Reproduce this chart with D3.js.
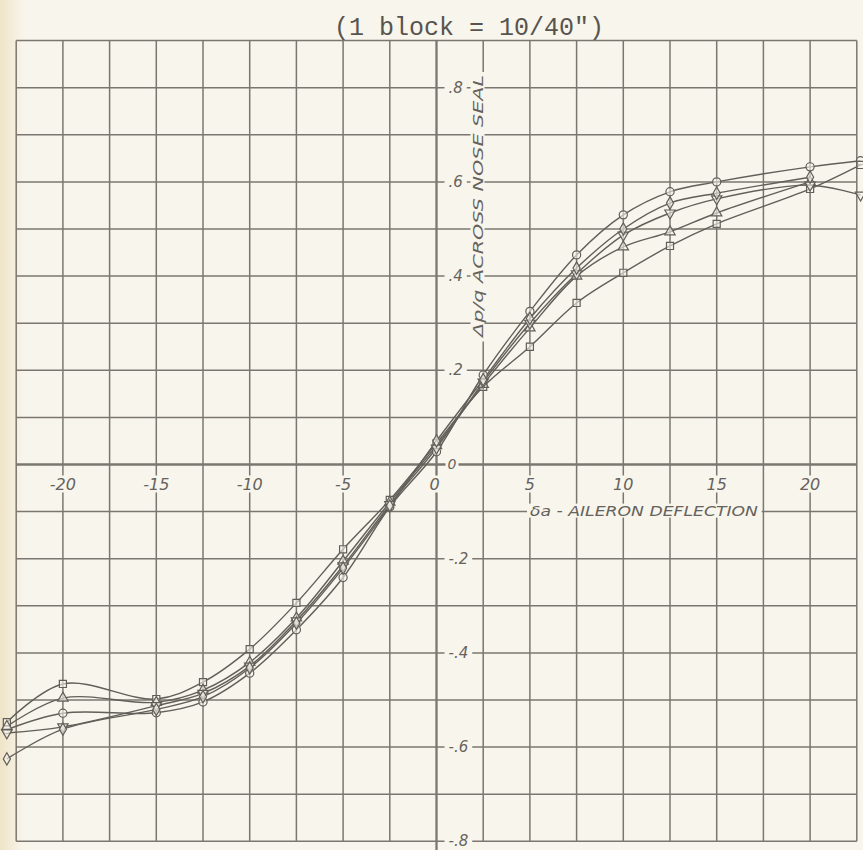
<!DOCTYPE html>
<html>
<head>
<meta charset="utf-8">
<script src="https://cdn.jsdelivr.net/npm/d3@7"></script>
<style>
  html, body { margin: 0; padding: 0; background: #f8f5ec; }
  svg { display: block; }
</style>
</head>
<body>
<svg id="chart" width="863" height="850"></svg>
<script>
// ---- data ----
const xValues = [-23, -20, -15, -12.5, -10, -7.5, -5, -2.5, 0, 2.5, 5, 7.5, 10, 12.5, 15, 20, 22.7];
const circleSeries   = [-0.563, -0.528, -0.527, -0.504, -0.443, -0.351, -0.240, -0.090, 0.027, 0.190, 0.325, 0.445, 0.530, 0.579, 0.600, 0.632, 0.645];
const squareSeries   = [-0.547, -0.466, -0.498, -0.462, -0.392, -0.294, -0.180, -0.075, 0.045, 0.165, 0.250, 0.343, 0.407, 0.464, 0.511, 0.585, 0.636];
const triangleSeries = [-0.556, -0.496, -0.505, -0.479, -0.420, -0.326, -0.205, -0.080, 0.040, 0.170, 0.290, 0.400, 0.462, 0.494, 0.534, 0.600, null];
const invTriSeries   = [-0.570, -0.557, -0.512, -0.486, -0.428, -0.332, -0.215, -0.085, 0.035, 0.175, 0.300, 0.405, 0.487, 0.534, 0.564, 0.593, 0.572];
const diamondSeries  = [-0.625, -0.562, -0.520, -0.493, -0.432, -0.337, -0.220, -0.088, 0.050, 0.180, 0.310, 0.417, 0.500, 0.555, 0.576, 0.610, null];

const xTickValues = [-20, -15, -10, -5, 0, 5, 10, 15, 20];
const xTickLabels = ["-20", "-15", "-10", "-5", "0", "5", "10", "15", "20"];
const yTickValues = [0.8, 0.6, 0.4, 0.2, 0, -0.2, -0.4, -0.6, -0.8];
const yTickLabels = [".8", ".6", ".4", ".2", "0", "-.2", "-.4", "-.6", "-.8"];
const titleText = "(1 block = 10/40\")";
const xTitleText = "δa - AILERON DEFLECTION";
const yTitleText = "Δp/q ACROSS NOSE SEAL";

// ---- drawing ----
const paper = "#f8f5ec";
const ink = "#66625c";
const gridColor = "#7b7770";
const lineColor = "#625e59";
const svg = d3.select("#chart");

const x = d3.scaleLinear().domain([-22.5, 22.5]).range([16.2, 856.8]);
const y = d3.scaleLinear().domain([-0.8, 0.9]).range([841.3, 40.6]);

// paper tint
const defs = svg.append("defs");
const grad = defs.append("linearGradient").attr("id", "edge").attr("x1", 0).attr("x2", 1);
grad.append("stop").attr("offset", "0").attr("stop-color", "#efe4c8");
grad.append("stop").attr("offset", "1").attr("stop-color", paper);
svg.append("rect").attr("width", 863).attr("height", 850).attr("fill", paper);
svg.append("rect").attr("width", 24).attr("height", 850).attr("fill", "url(#edge)");

// grid
const gridX = d3.range(-22.5, 22.51, 2.5);
const gridY = d3.range(-8, 9.01, 1).map(d => d / 10);
const grid = svg.append("g");
grid.selectAll("line.v").data(gridX).join("line")
  .attr("x1", d => x(d)).attr("x2", d => x(d))
  .attr("y1", y(0.9)).attr("y2", y(-0.8))
  .attr("stroke", gridColor).attr("stroke-width", d => d === 0 ? 2.3 : 1.5);
grid.selectAll("line.h").data(gridY).join("line")
  .attr("y1", d => y(d)).attr("y2", d => y(d))
  .attr("x1", x(-22.5)).attr("x2", x(22.5))
  .attr("stroke", gridColor).attr("stroke-width", d => Math.abs(d) < 1e-9 ? 2.3 : 1.5);
// y axis extends slightly below
svg.append("line").attr("x1", x(0)).attr("x2", x(0)).attr("y1", y(-0.8)).attr("y2", 850)
  .attr("stroke", gridColor).attr("stroke-width", 2.3);

// helper: text with a paper-coloured patch behind it (gaps in the grid)
function label(g, txt, px, py, opts) {
  const t = g.append("text").attr("x", px).attr("y", py).text(txt)
    .attr("fill", ink)
    .attr("font-family", opts.family || "DejaVu Sans")
    .attr("font-style", opts.style || "italic")
    .attr("font-size", opts.size || 15)
    .attr("text-anchor", opts.anchor || "middle");
  if (opts.spacing) t.attr("letter-spacing", opts.spacing);
  if (opts.transform) t.attr("transform", opts.transform);
  if (opts.length) t.attr("textLength", opts.length).attr("lengthAdjust", "spacingAndGlyphs");
  const bb = t.node().getBBox();
  const pad = opts.pad === undefined ? 4 : opts.pad;
  g.insert("rect", () => t.node())
    .attr("x", bb.x - pad).attr("y", bb.y + 1).attr("width", bb.width + 2 * pad).attr("height", bb.height - 2)
    .attr("fill", paper)
    .attr("transform", opts.transform || null);
  return t;
}

const labels = svg.append("g");
xTickValues.forEach((v, i) => {
  label(labels, xTickLabels[i], x(v) - (v === 0 ? 2 : 0), y(0) + 25, { size: 16 });
});
yTickValues.forEach((v, i) => {
  if (v === 0) {
    label(labels, yTickLabels[i], x(0) + 11, y(v) + 4, { size: 14, anchor: "start", pad: 2 });
  } else {
    label(labels, yTickLabels[i], x(0) + 12, y(v) + 5, { size: 15, anchor: "start", pad: 4 });
  }
});

// axis titles
label(labels, xTitleText, 530, y(-0.1) + 4, { size: 14, anchor: "start", length: 228, pad: 3 });
label(labels, yTitleText, 0, 0, {
  size: 14, anchor: "middle", length: 262, pad: 3,
  transform: `translate(${x(0) + 46},206) rotate(-90)`
});

// title
svg.append("text").attr("x", 469).attr("y", 35).attr("text-anchor", "middle")
  .attr("font-family", "Liberation Mono, DejaVu Sans Mono, monospace")
  .attr("font-size", 25).attr("fill", "#57544f").text(titleText);

// series
const series = [
  { name: "circle", values: circleSeries, symbol: d3.symbolCircle, size: 52 },
  { name: "square", values: squareSeries, symbol: d3.symbolSquare, size: 50 },
  { name: "triangle", values: triangleSeries, symbol: d3.symbolTriangle, size: 46 },
  { name: "invtri", values: invTriSeries, symbol: d3.symbolTriangle, size: 46, rot: 180 },
  { name: "diamond", values: diamondSeries, symbol: d3.symbolDiamond, size: 44 }
];

const line = d3.line()
  .defined(d => d[1] !== null)
  .x(d => x(d[0])).y(d => y(d[1]))
  .curve(d3.curveCatmullRom.alpha(0.5));

const plot = svg.append("g");
series.forEach(s => {
  const pts = xValues.map((xv, i) => [xv, s.values[i]]).filter(d => d[1] !== null);
  plot.append("path").datum(pts)
    .attr("d", line)
    .attr("fill", "none").attr("stroke", lineColor).attr("stroke-width", 1.4);
});
series.forEach(s => {
  const pts = xValues.map((xv, i) => [xv, s.values[i]]).filter(d => d[1] !== null);
  plot.selectAll(null).data(pts).join("path")
    .attr("d", d3.symbol().type(s.symbol).size(s.size))
    .attr("transform", d => `translate(${x(d[0])},${y(d[1])})` + (s.rot ? ` rotate(${s.rot})` : ""))
    .attr("fill", paper).attr("fill-opacity", 0.6)
    .attr("stroke", lineColor).attr("stroke-width", 1.2);
});
</script>
</body>
</html>
